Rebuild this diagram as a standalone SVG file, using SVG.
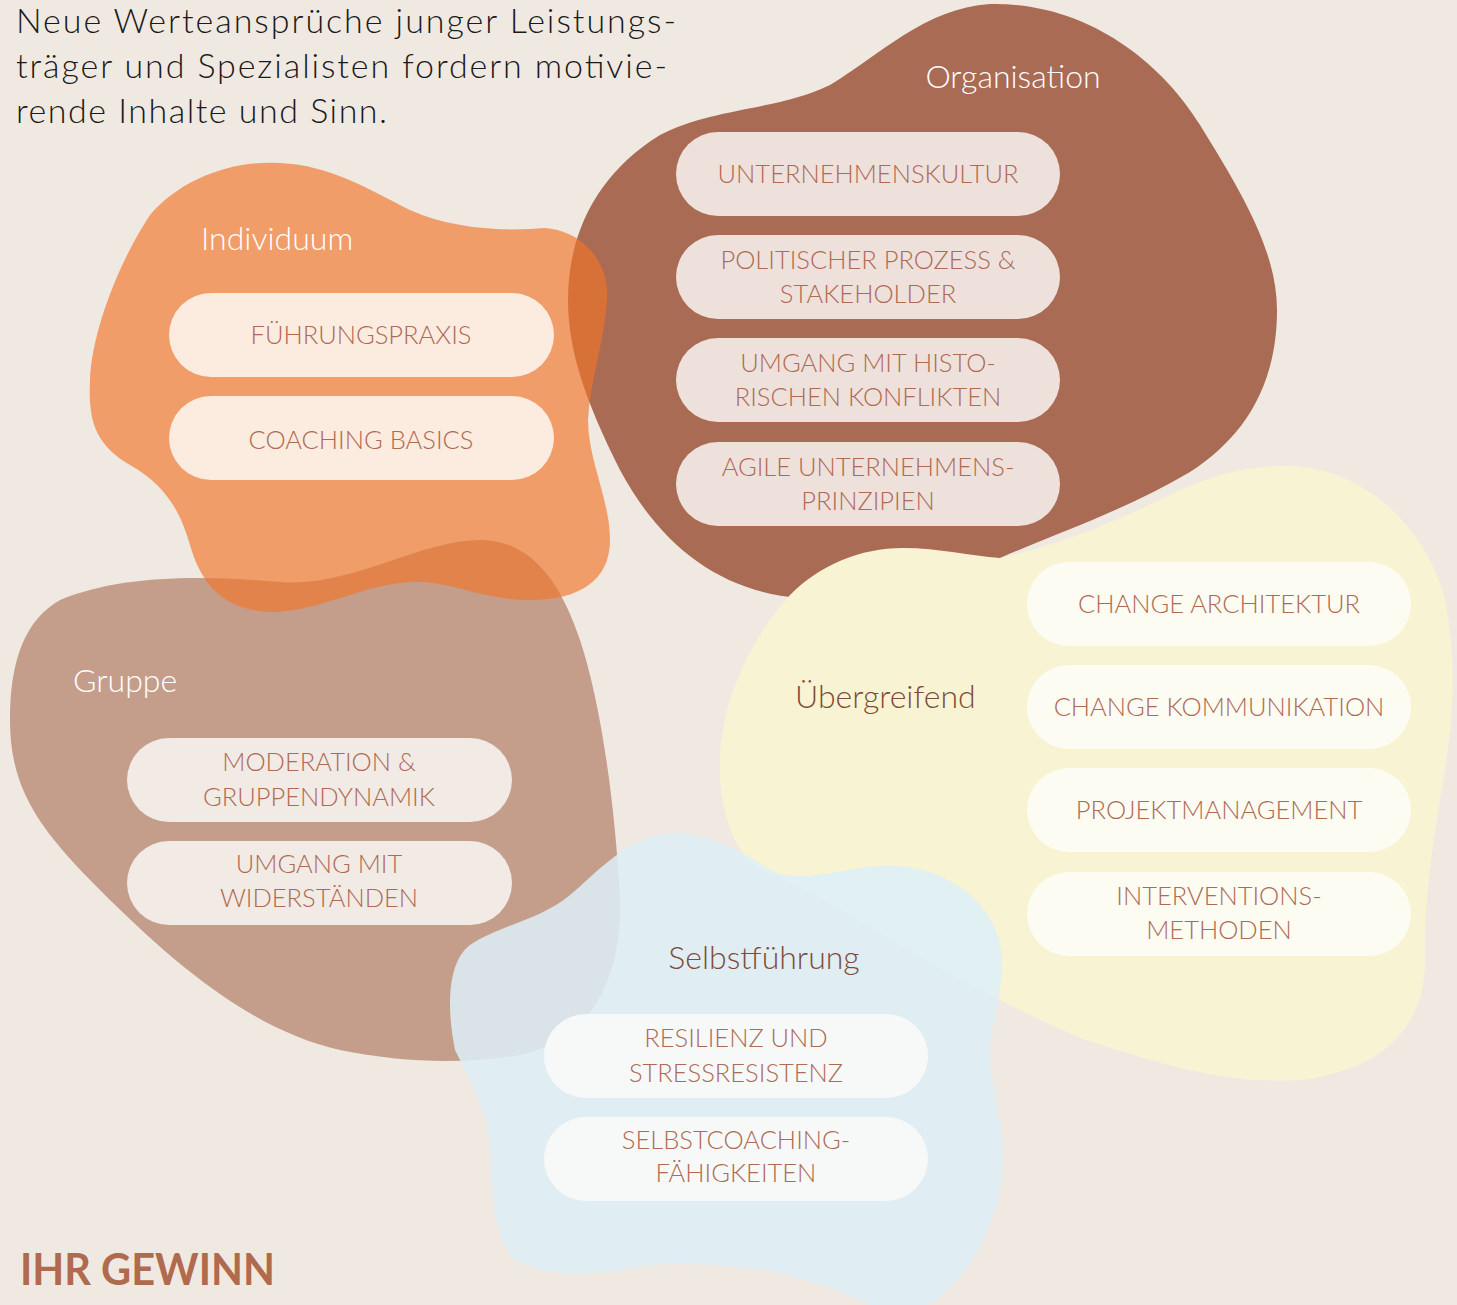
<svg xmlns="http://www.w3.org/2000/svg" width="1457" height="1305" viewBox="0 0 1457 1305">
<style>
.head{font-family:Lato,"Liberation Sans",sans-serif;font-size:34px;fill:#1a1a1a;font-weight:300}
.lbl{font-family:Lato,"Liberation Sans",sans-serif;font-size:32px;font-weight:300}
.w{fill:#ffffff}
.d{fill:#7f4b38}
.pt{font-family:Lato,"Liberation Sans",sans-serif;font-size:25.5px;font-weight:300;fill:#ae6a52;text-anchor:middle}
.title{font-family:Lato,"Liberation Sans",sans-serif;font-size:44px;font-weight:700;fill:#b06a4e}
</style>
<rect width="1457" height="1305" fill="#f0e9e2"/>
<g id="headline">
<text class="head" x="16" y="33" textLength="660" lengthAdjust="spacing">Neue Werteansprüche junger Leistungs-</text>
<text class="head" x="16" y="78" textLength="651" lengthAdjust="spacing">träger und Spezialisten fordern motivie-</text>
<text class="head" x="16" y="123" textLength="371" lengthAdjust="spacing">rende Inhalte und Sinn.</text>
</g>
<g id="organisation">
<path fill="#a96b54" d="M 990,4 C 1085,2 1160,60 1200,125 C 1240,190 1277,250 1277,310 C 1277,390 1240,440 1190,472 C 1130,508 1060,532 1000,558 C 950,580 880,600 800,598 C 720,592 660,545 620,470 C 585,400 568,350 568,300 C 568,230 600,172 660,135 C 710,108 780,110 830,85 C 880,55 925,8 990,4 Z"/>
<text class="lbl w" x="1013" y="88" text-anchor="middle">Organisation</text>
<g fill="#eee1dc">
<rect x="676" y="132" width="384" height="84" rx="42"/>
<rect x="676" y="235" width="384" height="84" rx="42"/>
<rect x="676" y="338" width="384" height="84" rx="42"/>
<rect x="676" y="442" width="384" height="84" rx="42"/>
</g>
<text class="pt" x="868" y="183">UNTERNEHMENSKULTUR</text>
<text class="pt" x="868" y="269">POLITISCHER PROZESS &amp;</text>
<text class="pt" x="868" y="303">STAKEHOLDER</text>
<text class="pt" x="868" y="372">UMGANG MIT HISTO-</text>
<text class="pt" x="868" y="406">RISCHEN KONFLIKTEN</text>
<text class="pt" x="868" y="476">AGILE UNTERNEHMENS-</text>
<text class="pt" x="868" y="510">PRINZIPIEN</text>
</g>
<g id="gruppe">
<path fill="#c59e8b" d="M 60,600 C 120,575 200,575 280,582 C 350,588 420,540 480,540 C 530,540 560,580 580,640 C 600,700 615,800 620,900 C 622,980 590,1040 520,1055 C 460,1065 400,1062 340,1050 C 250,1030 170,960 100,890 C 40,830 10,790 10,720 C 10,660 25,620 60,600 Z"/>
<text class="lbl w" x="73" y="692">Gruppe</text>
<g fill="#f2eae5">
<rect x="127" y="738" width="385" height="84" rx="42"/>
<rect x="127" y="841" width="385" height="84" rx="42"/>
</g>
<text class="pt" x="319" y="771">MODERATION &amp;</text>
<text class="pt" x="319" y="806">GRUPPENDYNAMIK</text>
<text class="pt" x="319" y="873">UMGANG MIT</text>
<text class="pt" x="319" y="907">WIDERSTÄNDEN</text>
</g>
<g id="uebergreifend">
<path fill="#f8f4d3" d="M 790,595 C 820,565 860,548 903,548 C 940,548 970,556 1000,558 C 1060,545 1120,520 1170,495 C 1220,470 1270,462 1310,468 C 1380,480 1430,540 1445,600 C 1460,680 1450,740 1440,800 C 1430,860 1424,910 1425,960 C 1425,1030 1380,1070 1300,1080 C 1220,1085 1150,1060 1086,1040 C 1050,1025 1020,1010 990,995 C 900,950 820,890 760,870 C 730,850 718,800 720,760 C 722,700 750,640 790,595 Z"/>
<text class="lbl d" x="795" y="708">Übergreifend</text>
<g fill="#fcfcf3">
<rect x="1027" y="562" width="384" height="84" rx="42"/>
<rect x="1027" y="665" width="384" height="84" rx="42"/>
<rect x="1027" y="768" width="384" height="84" rx="42"/>
<rect x="1027" y="872" width="384" height="84" rx="42"/>
</g>
<text class="pt" x="1219" y="613">CHANGE ARCHITEKTUR</text>
<text class="pt" x="1219" y="716">CHANGE KOMMUNIKATION</text>
<text class="pt" x="1219" y="819">PROJEKTMANAGEMENT</text>
<text class="pt" x="1219" y="905">INTERVENTIONS-</text>
<text class="pt" x="1219" y="939">METHODEN</text>
</g>
<g id="selbstfuehrung">
<path fill="#ddeff7" fill-opacity="0.85" d="M 677,833 C 710,835 740,850 770,870 C 800,885 840,868 880,866 C 940,862 1000,900 1002,960 C 1003,1000 988,1030 990,1060 C 993,1100 1010,1140 1000,1190 C 990,1240 960,1290 920,1310 L 880,1310 C 840,1290 800,1275 760,1270 C 720,1265 690,1262 650,1265 C 600,1275 550,1280 515,1260 C 495,1240 492,1200 490,1150 C 488,1110 470,1080 455,1050 C 445,1000 450,960 470,945 C 500,925 540,920 570,895 C 600,870 630,833 677,833 Z"/>
<text class="lbl d" x="764" y="969" text-anchor="middle">Selbstführung</text>
<g fill="#f7f9f9">
<rect x="544" y="1014" width="384" height="84" rx="42"/>
<rect x="544" y="1117" width="384" height="84" rx="42"/>
</g>
<text class="pt" x="736" y="1047">RESILIENZ UND</text>
<text class="pt" x="736" y="1082">STRESSRESISTENZ</text>
<text class="pt" x="736" y="1149">SELBSTCOACHING-</text>
<text class="pt" x="736" y="1182">FÄHIGKEITEN</text>
</g>
<g id="individuum">
<path fill="#f0752b" fill-opacity="0.66" d="M 280,163 C 330,165 370,190 410,210 C 450,228 500,232 545,228 C 590,232 610,270 607,300 C 605,340 590,380 588,420 C 588,460 610,500 610,540 C 610,580 580,600 530,600 C 480,600 450,580 410,582 C 360,585 320,612 270,612 C 220,610 200,580 190,545 C 180,510 165,485 130,465 C 95,445 88,420 90,380 C 92,330 120,260 150,215 C 180,180 230,160 280,163 Z"/>
<text class="lbl w" x="201" y="250">Individuum</text>
<g fill="#fcebdf">
<rect x="169" y="293" width="385" height="84" rx="42"/>
<rect x="169" y="396" width="385" height="84" rx="42"/>
</g>
<text class="pt" x="361" y="344">FÜHRUNGSPRAXIS</text>
<text class="pt" x="361" y="449">COACHING BASICS</text>
</g>
<g id="connectors"/>
<g id="footer">
<text class="title" x="20" y="1285" textLength="255" lengthAdjust="spacingAndGlyphs">IHR GEWINN</text>
</g>
</svg>
